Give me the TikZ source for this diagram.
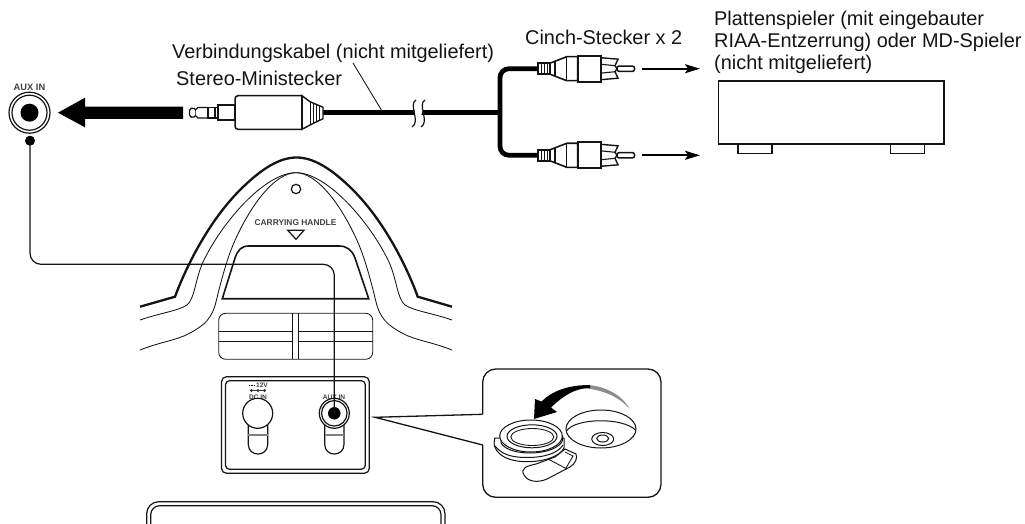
\documentclass[tikz,border=0pt]{standalone}
\usepackage{fontspec}
\setmainfont{Liberation Sans}
\usetikzlibrary{arrows.meta}
\definecolor{ink}{gray}{0.08}
\newcommand{\bigtxt}{\fontsize{19.9}{21.7}\selectfont}
\tikzset{
  x=1pt,y=-1pt,
  line join=round,
  ln/.style={draw=ink,line width=1.2pt},
  thn/.style={draw=ink,line width=0.85pt},
  thk/.style={draw=ink,line width=2.3pt},
  cable/.style={draw=black,line width=4.8pt},
  lab/.style={anchor=base west,inner sep=0pt,align=left,text=ink},
  tiny/.style={inner sep=0pt,text=black!75,font=\bfseries\fontsize{9.3}{10}\selectfont},
  tinier/.style={inner sep=0pt,text=black!75,font=\bfseries\fontsize{6.6}{7}\selectfont},
  flow/.style={draw=black,line width=1.7pt,-{Stealth[length=15pt,width=9pt,inset=3pt]}},
  rca/.pic={
    \draw[ln,line width=1.6pt,fill=white] (0,-5.5) -- (12,-5.5) -- (12,5.5) -- (0,5.5) -- cycle;
    \draw[ln,line width=1.3pt] (3.5,-5.5) -- (3.5,5.5) (6.5,-5.5) -- (6.5,5.5) (9.5,-5.5) -- (9.5,5.5);
    \draw[ln,line width=1.6pt,fill=white] (12,-5.5) -- (28.7,-12) -- (39.7,-12) -- (39.7,12) -- (28.7,12) -- (12,5.5) -- cycle;
    \draw[ln,line width=1.5pt] (17,-7.5) -- (17,7.5) (28.7,-12) -- (28.7,12);
    \draw[ln,line width=1.5pt,fill=white,rounded corners=2pt] (79,-2.6) -- (96.5,-2.6) -- (96.5,2.6) -- (79,2.6) -- cycle;
    \draw[ln,line width=1.4pt,fill=white] (62.7,-11) -- (80,-9.5) -- (77,-3) -- (79,0) -- (77,3) -- (80,9.5) -- (62.7,11) -- cycle;
    \draw[ln,line width=1.1pt] (62.7,-4.5) -- (77,-3) (62.7,4.5) -- (77,3);
    \draw[ln,line width=1.8pt,fill=white] (39.7,-13) rectangle (62.7,13);
  }
}
\begin{document}
\begin{tikzpicture}
\useasboundingbox (0,0) rectangle (1025,524);

% ---- labels
\node[lab] (verb) at (172,59) {\bigtxt Verbindungskabel (nicht mitgeliefert)};
\node[lab] (mini) at (176,86) {\bigtxt Stereo-Ministecker};
\node[lab] (cinch) at (525,44.5) {\bigtxt Cinch-Stecker x 2};
\node[lab] (pl1) at (714,26) {\bigtxt Plattenspieler (mit eingebauter};
\node[lab] (pl2) at (714,47.7) {\bigtxt RIAA-Entzerrung) oder MD-Spieler};
\node[lab] (pl3) at (714,69.3) {\bigtxt (nicht mitgeliefert)};

% ---- free ends of connectors
\coordinate (jackdot) at (30,140.7);
\coordinate (panelaux) at (334.3,413.3);
\coordinate (leadtop) at (353,63);
\coordinate (leadend) at (382,111);
\coordinate (cableL) at (323,112.3);
\coordinate (fork) at (500,112.3);
\coordinate (rcaT) at (538,68.7);
\coordinate (rcaB) at (538,155.3);
\coordinate (arrT0) at (642,68.7);
\coordinate (arrT1) at (700,68.7);
\coordinate (arrB0) at (642,155.3);
\coordinate (arrB1) at (700,155.3);

% ---- AUX IN jack, top left
\node[tiny] (auxlabel) at (29.5,87) {AUX IN};
\node[circle,ln,minimum size=41pt,inner sep=0pt] (jackO) at (29.5,112.7) {};
\node[circle,ln,minimum size=35pt,inner sep=0pt] (jackM) at (29.5,112.7) {};
\node[circle,fill=black,minimum size=18pt,inner sep=0pt] (jackI) at (29.5,112.7) {};
\fill[black] (jackdot) circle (5);

% ---- big arrow
\fill[black] (58,112.7) -- (85,97.7) -- (85,106.7) -- (183,106.7) -- (183,119) -- (85,119) -- (85,127.3) -- cycle;

% ---- stereo mini plug
\draw[ln,line width=1.3pt,fill=white,rounded corners=1.5pt] (189.5,109) -- (193,107.8) -- (196,109.5) -- (196,116) -- (193,117.6) -- (189.5,116.4) -- cycle;
\draw[ln,line width=1.3pt,fill=white] (196,109.5) -- (198,107.5) -- (208,107.5) -- (208,118) -- (198,118) -- (196,116);
\draw[ln,line width=1.5pt,fill=white] (208,107.5) rectangle (215,118);
\draw[ln,line width=1.5pt,fill=white] (215,107.5) rectangle (218,118);
\draw[ln,line width=1.4pt,fill=white] (218,105) rectangle (235,120);
\draw[cable] (cableL) -- (fork);
\draw[ln,line width=1.4pt,fill=white] (302,95.7) -- (310,101.7) -- (323,107.3) -- (323,118.7) -- (310,125) -- (302,129.3) -- cycle;
\draw[ln,line width=0.9pt] (310,101.7) -- (310,125) (313,103) -- (313,123.5) (316,104) -- (316,122) (319,105.5) -- (319,120.5);
\draw[ln,line width=1.5pt,fill=white,rounded corners=3pt] (302,95.7) -- (235,95.7) -- (235,129.3) -- (302,129.3);
\draw[ln,line width=1.4pt] (302,95.7) -- (302,129.3);

% ---- leader and cable break
\draw[thn] (leadtop) -- (leadend);
\fill[white] (415,106) -- (424,106) -- (420,119) -- (414,119) -- cycle;
\draw[ln] (416,100) .. controls (408,104) and (421,122) .. (412,127);
\draw[ln] (425,100) .. controls (417,104) and (430,122) .. (421,127);

% ---- fork
\draw[cable,rounded corners=9pt] (rcaT) -- (500,68.7) -- (500,155.3) -- (rcaB);
\pic at (rcaT) {rca};
\pic at (rcaB) {rca};
\draw[flow] (arrT0) -- (arrT1);
\draw[flow] (arrB0) -- (arrB1);

% ---- player
\node[ln,line width=1.4pt,minimum width=225.7pt,minimum height=63pt,inner sep=0pt] (player) at (831.2,112.5) {};
\draw[ln,line width=1.3pt] (738,144) -- (738,153.3) -- (772,153.3) -- (772,144);
\draw[ln,line width=1.3pt] (890.7,144) -- (890.7,153.3) -- (924.7,153.3) -- (924.7,144);

% ---- unit top
\draw[thk] (140,306.7) -- (175,296.7) .. controls (183,275) and (205,225) .. (240,190) .. controls (262,168) and (280,157.5) .. (296.5,157.5)
  .. controls (313,157.5) and (331,168) .. (353,190) .. controls (388,225) and (410,275) .. (417.7,296.7) -- (452,306.7);
\draw[thn] (140,320) .. controls (160,313) and (178,311) .. (187,305) .. controls (195,298) and (195,280) .. (203,262)
  .. controls (222,222) and (265,172.7) .. (296,172.7)
  .. controls (327,172.7) and (370,222) .. (389,262) .. controls (397,280) and (397,298) .. (405,305) .. controls (414,311) and (432,313) .. (452,320);
\draw[thn] (140,350) .. controls (160,342) and (178,340) .. (190,333) .. controls (205,325) and (212,318) .. (216,302)
  .. controls (220,285) and (226,262) .. (233,245) .. controls (250,205) and (275,172.7) .. (296,172.7)
  .. controls (317,172.7) and (342,205) .. (359,245) .. controls (366,262) and (372,285) .. (376,302) .. controls (380,318) and (387,325) .. (402,333) .. controls (414,340) and (432,342) .. (452,350);
\node[circle,ln,minimum size=9.4pt,inner sep=0pt] (screw) at (296,189) {};
\node[tiny,font=\bfseries\fontsize{8.4}{9}\selectfont] (handle) at (295.5,223) {CARRYING HANDLE};
\draw[ln] (287.7,230.3) -- (304,230.3) -- (296,239.3) -- cycle;
\draw[ln,line width=1.6pt] (222.3,298.7) -- (235,258) .. controls (238,250) and (241,246) .. (249,246) -- (339,246) .. controls (347,246) and (352,250) .. (355,258) -- (368.7,298.7) -- cycle;

% ---- slot grid
\draw[thn,rounded corners=7pt] (218.7,313.3) rectangle (372.7,359.3);
\draw[thn] (292.7,313.3) -- (292.7,359.3) (298.7,313.3) -- (298.7,359.3);
\draw[thn] (218.7,331.7) -- (292.7,331.7) (298.7,331.7) -- (372.7,331.7) (218.7,341.7) -- (292.7,341.7) (298.7,341.7) -- (372.7,341.7);

% ---- connector panel
\draw[ln,rounded corners=5pt] (221.5,376.7) rectangle (369.3,473.3);
\draw[ln,rounded corners=4pt] (225.5,380.7) rectangle (365.3,469.3);
\node[tinier] (v12) at (262,385.2) {12V};
\draw[black,line width=1.2pt,dash pattern=on 1pt off 0.5pt] (249,385.3) -- (254.5,385.3);
\draw[black!80,line width=0.7pt] (250,390.5) -- (266,390.5);
\foreach \a in {251.5,258,264.5}{\fill[black!80] (\a,390.5) circle (1.6);}
\node[tinier] (dcin) at (258,396.8) {DC IN};
\node[tinier] (auxin2) at (334,396.8) {AUX IN};
\draw[ln] (248.3,425) -- (248.3,444.3) .. controls (248.3,457.3) and (267.7,457.3) .. (267.7,444.3) -- (267.7,425);
\draw[ln] (324.7,425) -- (324.7,444.3) .. controls (324.7,457.3) and (344,457.3) .. (344,444.3) -- (344,425);
\draw[black!50,line width=2pt] (248.3,435) -- (267.7,435) (324.7,435) -- (344,435);
\node[circle,ln,minimum size=30pt,inner sep=0pt,fill=white] (dcjack) at (257.7,413.3) {};
\node[circle,ln,minimum size=30pt,inner sep=0pt,fill=white] (auxo) at (panelaux) {};
\node[circle,ln,minimum size=25.5pt,inner sep=0pt] (auxm) at (panelaux) {};
\node[circle,fill=black,minimum size=12.5pt,inner sep=0pt] (auxi) at (panelaux) {};

% ---- long line from jack to panel
\draw[draw=ink,line width=1.2pt,rounded corners=11pt] (jackdot) -- (30,264.3) -- (334.3,264.3) -- (panelaux);

% ---- callout
\coordinate (calltip) at (375,417.3);
\coordinate (callA) at (482.7,414.3);
\coordinate (callB) at (482.7,445);
\draw[ln,line width=1.3pt,rounded corners=13pt] (callA) -- (482.7,369) -- (661,369) -- (661,497.3) -- (482.7,497.3) -- (callB);
\draw[ln,line width=1.3pt] (callA) -- (calltip) -- (callB);

% curved arrow
\fill[black!45] (583,385) .. controls (600,384.5) and (620,392) .. (630,409) .. controls (620,398) and (605,390) .. (583,388) -- cycle;
\fill[black] (534,419) -- (535,399) -- (541.5,401.5) .. controls (552,391) and (568,385) .. (590,385) -- (590,388) .. controls (575,388) and (563,396) .. (551,407.5) -- (557,412) -- cycle;

% cap
\draw[thn,line width=1pt] (601,429) ellipse[x radius=35,y radius=19];
\draw[thn,line width=1pt] (566.5,431) .. controls (575,418) and (622,417) .. (635.5,430);
\draw[thn,line width=1pt] (602.7,439) ellipse[x radius=11,y radius=6.5];
\draw[thn,line width=1pt] (602.7,438.5) ellipse[x radius=6,y radius=3.5];

% strap
\draw[thn,line width=1pt,fill=white] (555,457) -- (565,449) -- (576,454) .. controls (578,458) and (575,464) .. (570,467)
  -- (547,479) .. controls (538,483) and (528,482) .. (524,475) .. controls (520,468) and (527,466) .. (536,464) -- cycle;
\draw[thn] (548,459) -- (567,469) (565,452) -- (573,456) -- (566,468);
% ring
\draw[thn,line width=1pt,fill=white] (494.5,440) .. controls (492,448) and (500,461.7) .. (527,461.7) .. controls (545,461.7) and (560,456) .. (564,448) -- (564,438) -- (494.5,438) -- cycle;
\draw[thn,line width=1pt] (495,446) .. controls (503,456) and (515,457.5) .. (527,457.5) .. controls (545,457.5) and (558,453) .. (563,445);
\draw[thn,line width=1pt,fill=white] (501,438) -- (501,443) .. controls (506,451) and (520,453) .. (530,453) .. controls (546,453) and (560,448) .. (562.7,440) -- (562.7,436) -- cycle;
\draw[thn,line width=1pt,fill=white] (531,436) ellipse[x radius=31.3,y radius=16];
\draw[thn,line width=1pt] (532,436.3) ellipse[x radius=25,y radius=11.5];
\draw[thn] (532.3,437) ellipse[x radius=21.5,y radius=8.5];

% ---- bottom box
\draw[ln,rounded corners=12pt] (146.7,501.7) -- (445,501.7) -- (445,540) -- (146.7,540) -- cycle;
\draw[ln,rounded corners=9pt] (150.7,505.7) -- (441,505.7) -- (441,540) -- (150.7,540) -- cycle;
\end{tikzpicture}
\end{document}
